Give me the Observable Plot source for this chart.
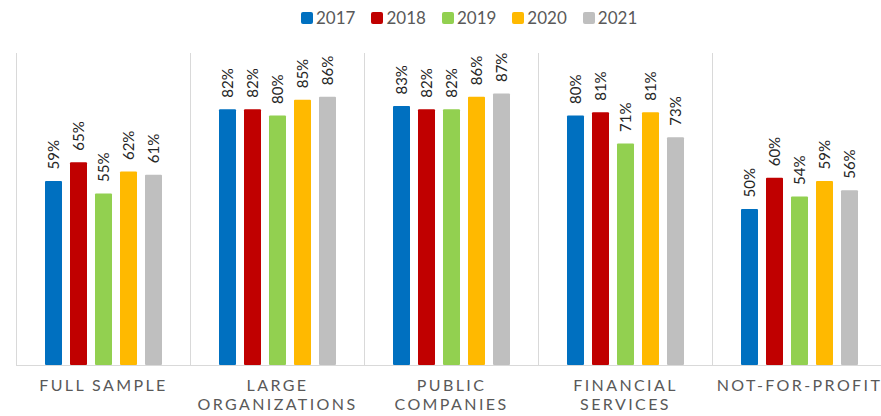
<!DOCTYPE html>
<html><head><meta charset="utf-8">
<script src="https://cdn.jsdelivr.net/npm/d3@7"></script>
<script src="https://cdn.jsdelivr.net/npm/@observablehq/plot@0.6"></script>
<style>
body{margin:0;background:#fff;font-family:Lato,sans-serif;overflow:hidden;width:881px;height:416px}
#legend{display:flex;height:35px;align-items:center;padding-left:301px;box-sizing:border-box;color:#595959;font-size:17px}
#legend .item{display:flex;align-items:center;margin-right:16px}
#legend .sw{width:12px;height:12px;border-radius:2px;margin-right:3px}
#chart svg [aria-label="fx-axis tick label"]{letter-spacing:2.4px}
</style></head><body>
<div id="legend"></div><div id="chart"></div>
<script>
const categories = ["FULL SAMPLE","LARGE ORGANIZATIONS","PUBLIC COMPANIES","FINANCIAL SERVICES","NOT-FOR-PROFIT"];
const categoryLabels = ["FULL SAMPLE","LARGE\nORGANIZATIONS","PUBLIC\nCOMPANIES","FINANCIAL\nSERVICES","NOT-FOR-PROFIT"];
const years = ["2017","2018","2019","2020","2021"];
const colors = ["#0070C0","#C00000","#92D050","#FFB900","#BFBFBF"];
const v2017 = [0.59,0.82,0.83,0.80,0.50];
const v2018 = [0.65,0.82,0.82,0.81,0.60];
const v2019 = [0.55,0.80,0.82,0.71,0.54];
const v2020 = [0.62,0.85,0.86,0.81,0.59];
const v2021 = [0.61,0.86,0.87,0.73,0.56];
const series = [v2017,v2018,v2019,v2020,v2021];

const rows = [];
categories.forEach((c,i)=>years.forEach((y,j)=>rows.push({cat:c, year:y, value:series[j][i]})));

const legend = document.getElementById("legend");
years.forEach((y,j)=>{
  const it = document.createElement("div"); it.className="item";
  it.innerHTML = `<span class="sw" style="background:${colors[j]}"></span><span>${y}</span>`;
  legend.appendChild(it);
});

const chart = Plot.plot({
  width: 881, height: 381,
  marginLeft: 16, marginRight: -5, marginTop: 18, marginBottom: 51,
  style: {fontFamily: "Lato, sans-serif", color: "#595959", background: "#fff"},
  fx: {domain: categories, padding: 0, axis: null},
  x: {domain: years, paddingInner: 0.333, paddingOuter: 1.08, axis: null},
  y: {domain: [0, 1], axis: null},
  color: {domain: years, range: colors},
  marks: [
    Plot.frame({anchor: "left", stroke: "#d9d9d9"}),
    Plot.ruleY([0], {stroke: "#d9d9d9"}),
    Plot.barY(rows, {fx: "cat", x: "year", y: "value", fill: "year", rx: 1}),
    Plot.text(rows, {fx: "cat", x: "year", y: "value", text: d => Math.round(d.value*100) + "%",
      rotate: -90, textAnchor: "start", lineAnchor: "middle", dy: -12, fontSize: 15, fill: "#262626"}),
    Plot.axisFx({anchor: "bottom", tickSize: 0, tickPadding: 12, fontSize: 16, lineHeight: 1.2,
      tickFormat: d => categoryLabels[categories.indexOf(d)], label: null})
  ]
});
document.getElementById("chart").appendChild(chart);
</script>
</body></html>
